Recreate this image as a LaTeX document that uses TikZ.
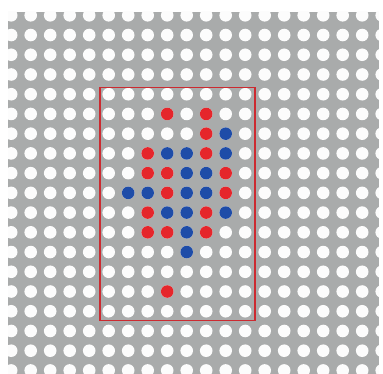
\documentclass[tikz,border=0pt]{standalone}
\usepackage{tikz}
\usetikzlibrary{calc}
\definecolor{platebg}{HTML}{A9ABAB}
\definecolor{holewhite}{HTML}{FCFCFC}
\definecolor{hotred}{HTML}{E5262B}
\definecolor{coolblue}{HTML}{1E4CA8}
\definecolor{framered}{HTML}{CC2A30}
\tikzset{
  hole/.style={fill=holewhite},
  redhole/.style={fill=hotred},
  bluehole/.style={fill=coolblue},
  roiframe/.style={draw=framered, line width=1.8pt}}
% grid pitch and hole radius (in px of the reference)
\newcommand{\pitchx}{19.5}
\newcommand{\pitchy}{19.73}
\newcommand{\holer}{6.3}

\begin{document}
\begin{tikzpicture}[x=1pt, y=-1pt]
  \useasboundingbox (0,0) rectangle (383,374);
  \fill[platebg] (8,12) rectangle (379,374);
  \begin{scope}
    \clip (8,12) rectangle (379,374);
    \foreach \c in {-1,...,18}
      \foreach \r in {0,...,18}
        \fill[hole] ({30.7+\pitchx*\c},{15.3+\pitchy*\r}) circle (\holer);
  \end{scope}
  % marked holes
  \foreach \c/\r in {7/5,9/5,9/6,6/7,9/7,6/8,7/8,10/8,7/9,10/9,6/10,9/10,6/11,7/11,9/11,7/14}
    \fill[redhole] ({30.7+\pitchx*\c},{15.3+\pitchy*\r}) circle (\holer);
  \foreach \c/\r in {10/6,7/7,8/7,10/7,8/8,9/8,5/9,6/9,8/9,9/9,7/10,8/10,10/10,8/11,8/12}
    \fill[bluehole] ({30.7+\pitchx*\c},{15.3+\pitchy*\r}) circle (\holer);
  % region of interest
  \coordinate (roiNW) at (100.3,87.5);
  \coordinate (roiSE) at (254.7,320.5);
  \draw[roiframe] (roiNW) rectangle (roiSE);
\end{tikzpicture}
\end{document}
